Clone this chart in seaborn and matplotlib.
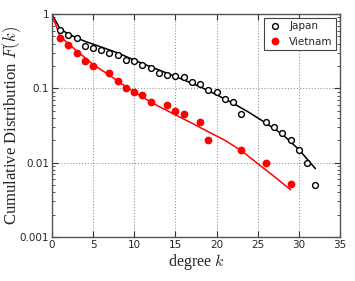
import numpy as np
import pandas as pd
import matplotlib
matplotlib.use('Agg')
import matplotlib.pyplot as plt
import matplotlib.ticker as mticker
import seaborn as sns

# observed cumulative distribution
japan_k = [1, 2, 3, 4, 5, 6, 7, 8, 9, 10, 11, 12, 13, 14, 15, 16, 17, 18, 19, 20,
           21, 22, 23, 26, 27, 28, 29, 30, 31, 32]
japan_F = [0.61, 0.53, 0.47, 0.37, 0.35, 0.33, 0.30, 0.28, 0.24, 0.235, 0.206, 0.19,
           0.16, 0.15, 0.146, 0.144, 0.12, 0.114, 0.095, 0.09, 0.071, 0.065, 0.045,
           0.035, 0.030, 0.025, 0.020, 0.015, 0.010, 0.005]
vietnam_k = [1, 2, 3, 4, 5, 7, 8, 9, 10, 11, 12, 14, 15, 16, 18, 19, 23, 26, 29]
vietnam_F = [0.48, 0.38, 0.30, 0.235, 0.20, 0.16, 0.125, 0.10, 0.09, 0.081, 0.066,
             0.060, 0.050, 0.045, 0.0355, 0.020, 0.015, 0.010, 0.0051]

# fitted curves
japan_fit_k = [0, 1, 2, 3, 4, 6, 8, 10, 12, 14, 16, 18, 20, 22, 24, 26, 28, 30, 32]
japan_fit_F = [1.0, 0.63, 0.54, 0.48, 0.43, 0.36, 0.30, 0.24, 0.195, 0.16, 0.13, 0.105,
               0.082, 0.063, 0.047, 0.034, 0.024, 0.015, 0.0083]
vietnam_fit_k = [0, 1, 2, 3, 4, 5, 7, 9, 11, 13, 15, 17, 19, 21, 23, 25, 27, 29]
vietnam_fit_F = [1.0, 0.5, 0.40, 0.32, 0.26, 0.21, 0.15, 0.105, 0.076, 0.057, 0.044,
                 0.034, 0.026, 0.020, 0.0145, 0.0097, 0.0065, 0.0043]

x_ticks = [0, 5, 10, 15, 20, 25, 30, 35]
y_ticks = [0.001, 0.01, 0.1, 1]
y_tick_labels = ['0.001', '0.01', '0.1', '1']

sns.set_style('ticks', {'xtick.direction': 'in', 'ytick.direction': 'in'})
plt.rcParams['font.family'] = ['DejaVu Sans']
plt.rcParams['mathtext.fontset'] = 'cm'

jp = pd.DataFrame({'k': japan_k, 'F': japan_F})
vn = pd.DataFrame({'k': vietnam_k, 'F': vietnam_F})
jp_fit = pd.DataFrame({'k': japan_fit_k, 'F': japan_fit_F})
vn_fit = pd.DataFrame({'k': vietnam_fit_k, 'F': vietnam_fit_F})

fig = plt.figure(figsize=(3.55, 2.81), dpi=100)
ax = fig.add_axes([0.146, 0.157, 0.812, 0.793])

sns.lineplot(data=jp_fit, x='k', y='F', ax=ax, color='black', lw=1.1, zorder=2)
sns.lineplot(data=vn_fit, x='k', y='F', ax=ax, color='red', lw=1.1, zorder=2)
ax.plot(jp['k'], jp['F'], 'o', mfc='white', mec='black', mew=1.0, ms=4.2,
        label='Japan', zorder=3, clip_on=False)
ax.plot(vn['k'], vn['F'], 'o', mfc='red', mec='red', ms=4.6,
        label='Vietnam', zorder=3, clip_on=False)

ax.set_yscale('log')
ax.set_xlim(0, 35)
ax.set_ylim(0.001, 1)
ax.set_xticks(x_ticks)
ax.set_yticks(y_ticks)
ax.yaxis.set_major_formatter(mticker.FixedFormatter(y_tick_labels))
ax.yaxis.set_minor_locator(mticker.LogLocator(base=10, subs=np.arange(2, 10)))
ax.yaxis.set_minor_formatter(mticker.NullFormatter())
ax.tick_params(which='both', direction='in', top=True, right=True, labelsize=7.5,
               color='#333333', pad=2)
ax.tick_params(which='major', length=4, width=0.8)
ax.tick_params(which='minor', length=2, width=0.6)
ax.grid(True, which='major', ls=':', color='#999999', lw=0.8)
for s in ax.spines.values():
    s.set_color('#555555')
    s.set_linewidth(1.0)

ax.set_xlabel('degree $k$', family='Liberation Serif', fontsize=11.5, labelpad=2)
ax.set_ylabel('Cumulative Distribution $F(k)$', family='Liberation Serif',
              fontsize=12)
ax.yaxis.set_label_coords(-0.1, 0.5)

leg = ax.legend(loc='upper right', numpoints=1, fontsize=7.5, fancybox=False,
                framealpha=1, edgecolor='#444444', borderaxespad=0.4,
                handletextpad=0.6, borderpad=0.3, handlelength=1.5)
leg.get_frame().set_linewidth(0.8)

fig.savefig('out.png', dpi=100)
